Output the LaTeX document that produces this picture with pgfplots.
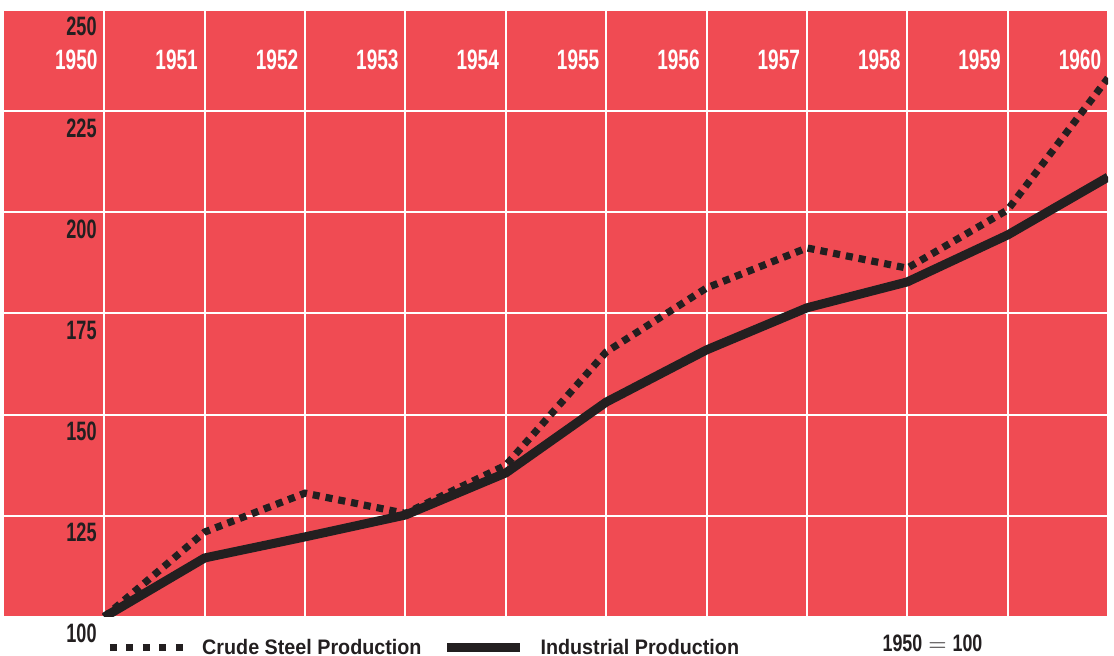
\documentclass[border=0pt]{standalone}
\usepackage{pgfplots}
\pgfplotsset{compat=1.18}
\usepackage{fontspec}
\setmainfont{Liberation Sans}
\newfontfamily\numfont{Liberation Sans}[UprightFont=* Bold, FakeStretch=0.68]
\newfontfamily\basefont{Liberation Sans}[UprightFont=* Bold, FakeStretch=0.75]
\newfontfamily\legfont{Liberation Sans}[UprightFont=* Bold, FakeStretch=0.94]
\definecolor{chartred}{RGB}{240,75,83}
\definecolor{linecol}{RGB}{35,31,32}
\begin{document}
\begin{tikzpicture}
\useasboundingbox (-2pt,-19.5pt) rectangle (555pt,308.5pt);
\begin{axis}[
  scale only axis,
  width=552pt, height=303.5pt,
  xmin=1949, xmax=1960, ymin=100, ymax=250,
  clip mode=individual,
  axis background/.style={fill=chartred},
  axis line style={draw=none},
  major tick length=0pt,
  grid=major,
  grid style={white, line width=1pt},
  xtick={1950,1951,1952,1953,1954,1955,1956,1957,1958,1959,1960},
  xticklabels={1950,1951,1952,1953,1954,1955,1956,1957,1958,1959,1960},
  xticklabel pos=upper,
  xticklabel style={anchor=north east, inner sep=0pt, xshift=-3.25pt, yshift=-20pt,
    text=white, font=\numfont\fontsize{14}{14}\selectfont},
  ytick={100,125,150,175,200,225,250},
  yticklabels={100,125,150,175,200,225,250},
  yticklabel style={anchor=north east, inner sep=0pt, xshift=46.5pt, yshift=-3.5pt,
    text=linecol, font=\numfont\fontsize{13.3}{13.3}\selectfont},
  legend columns=2,
  legend cell align=left,
  legend style={draw=none, fill=none, inner sep=0pt,
    at={(axis description cs:0,0)}, anchor=west, xshift=51pt, yshift=-15.5pt,
    nodes={inner sep=0pt, font=\legfont\fontsize{10.5}{10.5}\selectfont, text=linecol},
    /tikz/every odd column/.append style={column sep=8pt},
    /tikz/every even column/.append style={column sep=0pt}},
]
\addplot[linecol, line width=3.6pt, dash pattern=on 3.5pt off 3pt,
  legend image code/.code={\draw[linecol, line width=3.5pt, dash pattern=on 3.4pt off 4.85pt] (0pt,0pt) -- (36.4pt,0pt);}]
  coordinates {(1950,100) (1951,121.0) (1952,130.6) (1953,125.6) (1954,137.5) (1955,165.5)
    (1956,181.3) (1957,191.2) (1958,186.2) (1959,200.6) (1960,233.2)};
\addlegendentry{Crude Steel Production\hspace*{10.5pt}}
\addplot[linecol, line width=4.5pt, line join=round,
  legend image code/.code={\draw[linecol, line width=4.5pt] (0pt,0pt) -- (36.5pt,0pt);}]
  coordinates {(1950,100) (1951,114.6) (1952,119.8) (1953,125.2) (1954,135.6) (1955,153.1)
    (1956,166.0) (1957,176.4) (1958,182.8) (1959,194.4) (1960,208.7)};
\addlegendentry{Industrial Production}
\node[anchor=base, inner sep=0pt, yshift=-17.5pt, text=linecol,
  font=\basefont\fontsize{11.9}{12}\selectfont] at (rel axis cs:0.841,0)
  {1950\hspace{3pt}$=$\hspace{3pt}100};
\end{axis}
\end{tikzpicture}
\end{document}
